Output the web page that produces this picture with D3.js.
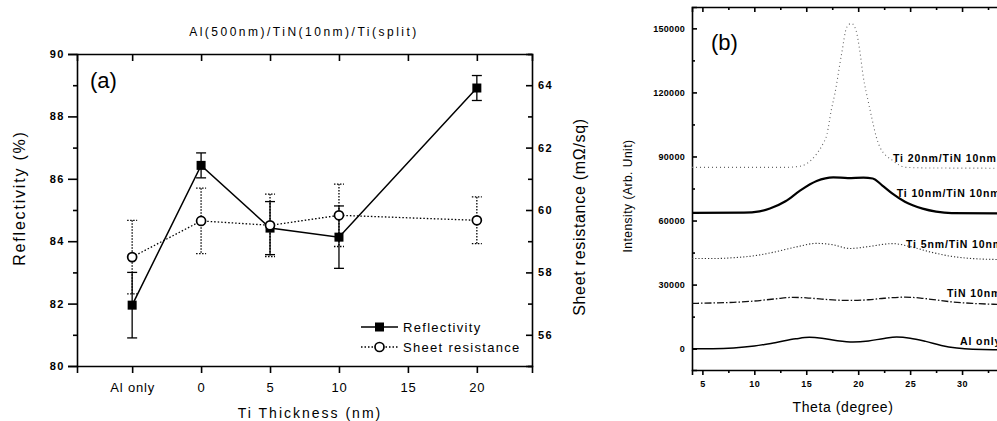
<!DOCTYPE html>
<html>
<head>
<meta charset="utf-8">
<script src="https://cdn.jsdelivr.net/npm/d3@7"></script>
<style>
  body { margin: 0; background: #fff; }
  svg { display: block; font-family: "Liberation Sans", Arial, sans-serif; }
  .axis path, .axis line { stroke: #000; stroke-width: 1.6; }
  .axis text { fill: #000; }
</style>
</head>
<body>
<svg id="chart" width="997" height="421"></svg>
<script>
// panel (a) data
const thickness = [-5, 0, 5, 10, 20]; // -5 stands for "Al only"
const thicknessTicks = [-5, 0, 5, 10, 15, 20];
const thicknessLabels = ["Al only", "0", "5", "10", "15", "20"];
const reflectivity = [81.95, 86.43, 84.42, 84.13, 88.91];
const reflectivityErr = [1.05, 0.4, 0.85, 1.0, 0.4];
const sheetRes = [58.49, 59.65, 59.51, 59.83, 59.67];
const sheetResErr = [1.18, 1.05, 1.0, 1.0, 0.75];
const leftTicks = [80, 82, 84, 86, 88, 90];
const rightTicks = [56, 58, 60, 62, 64];

// panel (b) data: [theta, intensity]
const alOnly = [[4,0],[6,0],[8,300],[10,1200],[12,2800],[14,4600],[15.3,5300],[16.5,4900],[18,3700],[19.5,3100],[21,3600],[22.5,4800],[23.7,5400],[25,4900],[26.5,3400],[28,1500],[29.5,300],[31,-300],[33,-500],[35,-500]];
const tin10 = [[4,21200],[6,21400],[8,21700],[10,22300],[12,23300],[13.7,24000],[15,23800],[16.5,23200],[18,22700],[19.5,22600],[21,22900],[22.5,23600],[24.5,24100],[26,23700],[27.5,22800],[29,21900],[31,21200],[33,20800],[35,20700]];
const ti5 = [[4,42200],[6,42200],[8,42600],[10,43500],[12,45300],[14,47600],[16,49300],[17.5,48700],[19.2,46900],[21,47800],[23.3,49200],[25,47800],[27,45200],[29,43200],[31,42200],[33,41800],[35,41700]];
const ti10 = [[4,63600],[9,63700],[10.5,64300],[11.5,65600],[13,69000],[14.4,74000],[16,78500],[17.6,80200],[19,79900],[20.5,80100],[21.4,79700],[22.3,76500],[23.3,72600],[24.5,68800],[26.2,65600],[27.5,64200],[29,63500],[35,63300]];
const ti20 = [[4,84900],[13,84900],[14.5,85500],[15,86500],[16,91200],[16.6,95900],[17,100500],[17.4,111500],[17.75,119300],[18.4,138000],[18.9,150500],[19.35,152300],[19.8,148900],[20.15,139600],[20.5,127000],[20.95,116200],[21.3,108300],[21.75,99000],[22.1,94300],[23.35,88000],[24.6,84900],[27,84600],[35,84500]];
const curveNames = ["Al only", "TiN 10nm", "Ti 5nm/TiN 10nm", "Ti 10nm/TiN 10nm", "Ti 20nm/TiN 10nm"];
const curveLabelAt = [[29.8, 1900], [28.55, 24400], [24.6, 47300], [23.7, 71200], [23.35, 87600]];
const intensityTicks = [0, 30000, 60000, 90000, 120000, 150000];
const thetaTicks = [5, 10, 15, 20, 25, 30, 35];

const svg = d3.select("#chart");

// ---------- panel (a) ----------
const A = { l: 77, r: 532, t: 54, b: 366 };
const xA = d3.scaleLinear().domain([-9, 24]).range([A.l, A.r]);
const yL = d3.scaleLinear().domain([80, 90]).range([A.b, A.t]);
const yR = d3.scaleLinear().domain([55, 65]).range([A.b, A.t]);
const ga = svg.append("g");

function axisG(parent, axis, tx, ty) {
  return parent.append("g").attr("class", "axis")
    .attr("transform", `translate(${tx},${ty})`).call(axis);
}

// minor ticks
axisG(ga, d3.axisLeft(yL).tickValues([81, 83, 85, 87, 89]).tickSize(4).tickFormat(""), A.l, 0).select(".domain").remove();
axisG(ga, d3.axisRight(yR).tickValues([55, 57, 59, 61, 63, 65]).tickSize(-4).tickFormat(""), A.r, 0).select(".domain").remove();

const axL = axisG(ga, d3.axisLeft(yL).tickValues(leftTicks).tickSize(9).tickPadding(3).tickFormat(d3.format("d")), A.l, 0);
axL.selectAll("text").attr("font-size", 11).attr("font-weight", "bold").attr("letter-spacing", 1.5);
const axR = axisG(ga, d3.axisRight(yR).tickValues(rightTicks).tickSize(-6).tickPadding(6).tickFormat(d3.format("d")), A.r, 0);
axR.selectAll("text").attr("font-size", 11).attr("font-weight", "bold").attr("letter-spacing", 1.5)
  .attr("text-anchor", "start").attr("dx", 0);
const axB = axisG(ga, d3.axisBottom(xA).tickValues(thicknessTicks).tickSize(7).tickPadding(10)
  .tickFormat((d, i) => thicknessLabels[i]), 0, A.b);
axB.selectAll("text").attr("font-size", 13).attr("letter-spacing", 0.8);
axisG(ga, d3.axisTop(xA).tickValues(thicknessTicks).tickSize(-7).tickFormat(""), 0, A.t);

// error bars
function errBars(vals, errs, yS, dash, capW) {
  const g = ga.append("g").attr("stroke", "#000").attr("stroke-width", 1.3).attr("stroke-dasharray", dash);
  thickness.forEach((t, i) => {
    const x = xA(t), y1 = yS(vals[i] + errs[i]), y2 = yS(vals[i] - errs[i]);
    g.append("line").attr("x1", x).attr("x2", x).attr("y1", y1).attr("y2", y2);
    g.append("line").attr("x1", x - capW).attr("x2", x + capW).attr("y1", y1).attr("y2", y1);
    g.append("line").attr("x1", x - capW).attr("x2", x + capW).attr("y1", y2).attr("y2", y2);
  });
}
errBars(sheetRes, sheetResErr, yR, "1.5,1.5", 5);
errBars(reflectivity, reflectivityErr, yL, null, 5);

const lineR = d3.line().x((d, i) => xA(thickness[i])).y(d => yL(d));
const lineS = d3.line().x((d, i) => xA(thickness[i])).y(d => yR(d));
ga.append("path").attr("d", lineS(sheetRes)).attr("fill", "none").attr("stroke", "#000")
  .attr("stroke-width", 1.3).attr("stroke-dasharray", "1.5,2");
ga.append("path").attr("d", lineR(reflectivity)).attr("fill", "none").attr("stroke", "#000").attr("stroke-width", 1.5);

ga.selectAll("rect.refl").data(reflectivity).join("rect").attr("class", "refl")
  .attr("x", (d, i) => xA(thickness[i]) - 4.5).attr("y", d => yL(d) - 4.5)
  .attr("width", 9).attr("height", 9).attr("fill", "#000");
ga.selectAll("circle.sr").data(sheetRes).join("circle").attr("class", "sr")
  .attr("cx", (d, i) => xA(thickness[i])).attr("cy", d => yR(d)).attr("r", 4.5)
  .attr("fill", "#fff").attr("stroke", "#000").attr("stroke-width", 1.7);

// legend
const lg = ga.append("g");
lg.append("line").attr("x1", 361).attr("x2", 398).attr("y1", 327).attr("y2", 327).attr("stroke", "#000").attr("stroke-width", 1.5);
lg.append("rect").attr("x", 375).attr("y", 322.5).attr("width", 9).attr("height", 9).attr("fill", "#000");
lg.append("text").attr("x", 403).attr("y", 331.5).attr("font-size", 13).attr("letter-spacing", 1.3).text("Reflectivity");
lg.append("line").attr("x1", 361).attr("x2", 398).attr("y1", 347).attr("y2", 347).attr("stroke", "#000")
  .attr("stroke-width", 1.3).attr("stroke-dasharray", "1.5,2");
lg.append("circle").attr("cx", 379.5).attr("cy", 347).attr("r", 4.5).attr("fill", "#fff").attr("stroke", "#000").attr("stroke-width", 1.7);
lg.append("text").attr("x", 403).attr("y", 351.5).attr("font-size", 13).attr("letter-spacing", 1.3).text("Sheet resistance");

// titles
ga.append("text").attr("x", 304).attr("y", 36).attr("text-anchor", "middle").attr("font-size", 12)
  .attr("letter-spacing", 2.5).text("Al(500nm)/TiN(10nm)/Ti(split)");
ga.append("text").attr("x", 90).attr("y", 88).attr("font-size", 22).text("(a)");
ga.append("text").attr("x", 310).attr("y", 418).attr("text-anchor", "middle").attr("font-size", 14)
  .attr("letter-spacing", 2).text("Ti Thickness (nm)");
ga.append("text").attr("transform", "translate(25,198) rotate(-90)").attr("text-anchor", "middle")
  .attr("font-size", 16).attr("letter-spacing", 1.8).text("Reflectivity (%)");
ga.append("text").attr("transform", "translate(585,217) rotate(-90)").attr("text-anchor", "middle")
  .attr("font-size", 16).attr("letter-spacing", 0.7).text("Sheet resistance (mΩ/sq)");

// ---------- panel (b) ----------
const B = { l: 692, r: 1014, t: 7, b: 370 };
const xB = d3.scaleLinear().domain([4, 35]).range([B.l, B.r]);
const yB = d3.scaleLinear().domain([-10000, 160000]).range([B.b, B.t]);
const gb = svg.append("g");

axisG(gb, d3.axisLeft(yB).tickValues(d3.range(15000, 160001, 30000)).tickSize(-3).tickFormat(""), B.l, 0).select(".domain").remove();
axisG(gb, d3.axisBottom(xB).tickValues(d3.range(7.5, 35, 5)).tickSize(3).tickFormat(""), 0, B.b).select(".domain").remove();
axisG(gb, d3.axisTop(xB).tickValues(d3.range(7.5, 35, 5)).tickSize(-3).tickFormat(""), 0, B.t).select(".domain").remove();

const bL = axisG(gb, d3.axisLeft(yB).tickValues(intensityTicks).tickSize(-5).tickPadding(7).tickFormat(d3.format("d")), B.l, 0);
bL.selectAll("text").attr("font-size", 9).attr("font-weight", "bold").attr("letter-spacing", 0.3);
const bB = axisG(gb, d3.axisBottom(xB).tickValues(thetaTicks).tickSize(5).tickPadding(6).tickFormat(d3.format("d")), 0, B.b);
bB.selectAll("text").attr("font-size", 9).attr("font-weight", "bold").attr("letter-spacing", 0.5);
axisG(gb, d3.axisTop(xB).tickValues(thetaTicks).tickSize(-5).tickFormat(""), 0, B.t);

const lineB = d3.line().x(d => xB(d[0])).y(d => yB(d[1])).curve(d3.curveMonotoneX);
const styles = [
  { data: alOnly, w: 1.5, dash: null, c: "#000" },
  { data: tin10, w: 1.3, dash: "7,2,1.5,2", c: "#111" },
  { data: ti5, w: 1.1, dash: "1.2,2", c: "#333" },
  { data: ti10, w: 2.2, dash: null, c: "#000" },
  { data: ti20, w: 1.1, dash: "1,3", c: "#666" }
];
styles.forEach(s => {
  gb.append("path").attr("d", lineB(s.data)).attr("fill", "none").attr("stroke", s.c)
    .attr("stroke-width", s.w).attr("stroke-dasharray", s.dash);
});
curveNames.forEach((n, i) => {
  gb.append("text").attr("x", xB(curveLabelAt[i][0])).attr("y", yB(curveLabelAt[i][1]))
    .attr("font-size", 10.5).attr("font-weight", "bold").attr("letter-spacing", 0.9).text(n);
});

gb.append("text").attr("x", 711).attr("y", 50).attr("font-size", 22).text("(b)");
gb.append("text").attr("x", 843).attr("y", 412).attr("text-anchor", "middle").attr("font-size", 14)
  .attr("letter-spacing", 0.6).text("Theta (degree)");
gb.append("text").attr("transform", "translate(632,196) rotate(-90)").attr("text-anchor", "middle")
  .attr("font-size", 12).attr("letter-spacing", 0.5).text("Intensity (Arb. Unit)");
</script>
</body>
</html>
